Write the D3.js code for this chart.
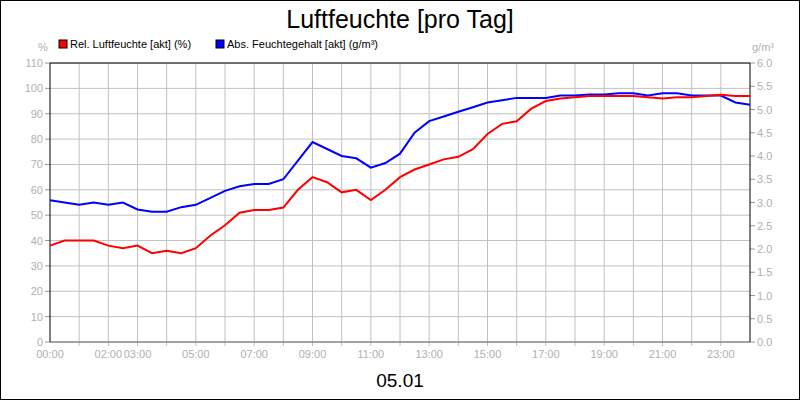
<!DOCTYPE html>
<html><head><meta charset="utf-8">
<script src="https://cdn.jsdelivr.net/npm/d3@7"></script>
<style>body{margin:0;background:#fff}svg{font-family:Arial,"Liberation Sans",sans-serif}</style>
</head><body><svg id="c" width="800" height="400"></svg>
<script>
const hours = d3.range(0, 24.01, 0.5);
const relHumidity = [38,40,40,40,38,37,38,35,36,35,37,42,46,51,52,52,53,60,65,63,59,60,56,60,65,68,70,72,73,76,82,86,87,92,95,96,96.5,97,97,97,97,96.5,96,96.5,96.5,97,97.5,97,97];
const absHumidity = [3.05,3.0,2.95,3.0,2.95,3.0,2.85,2.8,2.8,2.9,2.95,3.1,3.25,3.35,3.4,3.4,3.5,3.9,4.3,4.15,4.0,3.95,3.75,3.85,4.05,4.5,4.75,4.85,4.95,5.05,5.15,5.2,5.25,5.25,5.25,5.3,5.3,5.32,5.32,5.35,5.35,5.3,5.35,5.35,5.3,5.3,5.3,5.15,5.1];
const xTickLabels = ["00:00","02:00","03:00","05:00","07:00","09:00","11:00","13:00","15:00","17:00","19:00","21:00","23:00"];
const xTickHours = [0,2,3,5,7,9,11,13,15,17,19,21,23];
const leftTicks = d3.range(0,111,10);
const rightTicks = d3.range(0,6.01,0.5);

const svg = d3.select("#c");
const L=50,R=750,T=63,B=342;
const x=d3.scaleLinear().domain([0,24]).range([L,R]);
const yL=d3.scaleLinear().domain([0,110]).range([B,T]);
const yR=d3.scaleLinear().domain([0,6]).range([B,T]);
svg.append("rect").attr("x",0.5).attr("y",0.5).attr("width",799).attr("height",399).attr("fill","#fff").attr("stroke","#000");
svg.append("text").attr("x",400).attr("y",28).attr("text-anchor","middle").attr("font-size",25).text("Luftfeuchte [pro Tag]");
svg.append("text").attr("x",400).attr("y",387).attr("text-anchor","middle").attr("font-size",19).text("05.01");
const g=svg.append("g");
leftTicks.forEach(v=>g.append("line").attr("x1",L).attr("x2",R).attr("y1",yL(v)).attr("y2",yL(v)).attr("stroke","#c0c0c0"));
d3.range(1,24).forEach(h=>g.append("line").attr("x1",x(h)).attr("x2",x(h)).attr("y1",T).attr("y2",B+4).attr("stroke","#c0c0c0"));
const ax=svg.append("g").attr("font-size",11).attr("fill","#b0b0b0");
leftTicks.forEach(v=>{ax.append("line").attr("x1",L-5).attr("x2",L).attr("y1",yL(v)).attr("y2",yL(v)).attr("stroke","#999");
 ax.append("text").attr("x",L-7).attr("y",yL(v)+4).attr("text-anchor","end").text(v);});
rightTicks.forEach(v=>{ax.append("line").attr("x1",R).attr("x2",R+5).attr("y1",yR(v)).attr("y2",yR(v)).attr("stroke","#999");
 ax.append("text").attr("x",R+7).attr("y",yR(v)+4).text(v.toFixed(1));});
xTickHours.forEach((h,i)=>ax.append("text").attr("x",x(h)).attr("y",B+16).attr("text-anchor","middle").text(xTickLabels[i]));
ax.append("text").attr("x",38).attr("y",51).text("%");
ax.append("text").attr("x",752).attr("y",51).text("g/m³");
svg.append("line").attr("x1",L).attr("x2",R).attr("y1",T).attr("y2",T).attr("stroke","#000");
svg.append("line").attr("x1",L).attr("x2",L).attr("y1",T).attr("y2",B).attr("stroke","#000");
svg.append("line").attr("x1",R).attr("x2",R).attr("y1",T).attr("y2",B).attr("stroke","#000");
svg.append("line").attr("x1",L).attr("x2",R).attr("y1",B).attr("y2",B).attr("stroke","#666");
const line1=d3.line().x((d,i)=>x(hours[i])).y(d=>yL(d));
const line2=d3.line().x((d,i)=>x(hours[i])).y(d=>yR(d));
svg.append("path").attr("d",line2(absHumidity)).attr("fill","none").attr("stroke","#0000ff").attr("stroke-width",2);
svg.append("path").attr("d",line1(relHumidity)).attr("fill","none").attr("stroke","#ff0000").attr("stroke-width",2);
const lg=svg.append("g").attr("font-size",11);
lg.append("rect").attr("x",59).attr("y",40).attr("width",8).attr("height",8).attr("fill","#f00").attr("stroke","#000");
lg.append("text").attr("x",70).attr("y",48).text("Rel. Luftfeuchte [akt] (%)");
lg.append("rect").attr("x",216).attr("y",40).attr("width",8).attr("height",8).attr("fill","#00f").attr("stroke","#000");
lg.append("text").attr("x",227).attr("y",48).text("Abs. Feuchtegehalt [akt] (g/m³)");
</script></body></html>
